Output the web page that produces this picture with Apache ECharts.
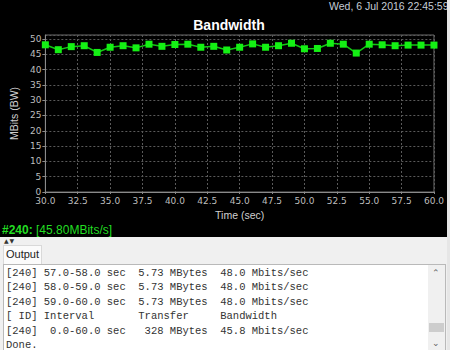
<!DOCTYPE html>
<html>
<head>
<meta charset="utf-8">
<script src="https://cdn.jsdelivr.net/npm/echarts@6/dist/echarts.min.js"></script>
<style>
  html, body { margin: 0; padding: 0; width: 450px; height: 350px; overflow: hidden; background: #f0f0f0; }
  #chart { position: absolute; left: 0; top: 0; width: 447px; height: 237px; background: #000; }
  #arrows { position: absolute; left: 4px; top: 238px; font: 6px "DejaVu Sans", sans-serif; line-height: 6px; color: #333; letter-spacing: 1px; }
  #tab { position: absolute; left: 3px; top: 245px; width: 39px; height: 19px; background: #fbfbfb; border: 1px solid #d9d9d9; border-bottom: none; box-sizing: border-box; font: 11px "Liberation Sans", Arial, sans-serif; color: #222; text-align: center; line-height: 17px; }
  #out { position: absolute; left: 3px; top: 264px; width: 443px; height: 90px; background: #fff; border: 1px solid #b9b9b9; box-sizing: border-box; }
  #log { position: absolute; left: 2px; top: 1px; margin: 0; font: 10.5px "Liberation Mono", "Courier New", monospace; line-height: 14.4px; color: #333; white-space: pre; }
  #sb { position: absolute; right: 0px; top: 0; width: 17px; height: 90px; background: #f0f0f0; }
  #sbthumb { position: absolute; left: 1px; top: 58px; width: 15px; height: 9px; background: #cdcdcd; }
  .chev { position: absolute; left: 4px; font: 9px "DejaVu Sans", sans-serif; color: #606060; }
  #edge { position: absolute; left: 447px; top: 0; width: 3px; height: 350px; background: #e6e6e6; }
</style>
</head>
<body>
<div id="chart"></div>
<div id="arrows">▲▼</div>
<div id="tab">Output</div>
<div id="out">
  <pre id="log"></pre>
  <div id="sb">
    <div class="chev" style="top:3px">&#8963;</div>
    <div id="sbthumb"></div>
    <div class="chev" style="top:73px">&#8964;</div>
  </div>
</div>
<div id="edge"></div>
<script>
// ---- data ----
var timeSec = [30, 31, 32, 33, 34, 35, 36, 37, 38, 39, 40, 41, 42, 43, 44, 45,
               46, 47, 48, 49, 50, 51, 52, 53, 54, 55, 56, 57, 58, 59, 60];
var bandwidth = [48.1, 46.5, 47.5, 47.8, 45.6, 47.3, 47.8, 47.1, 48.3, 47.6, 48.2,
                 48.3, 47.3, 47.6, 46.4, 47.3, 48.4, 47.3, 47.8, 48.6, 46.8, 46.9,
                 48.6, 48.3, 45.4, 48.3, 48.1, 47.8, 48.0, 48.0, 48.0];
var chartTitle = "Bandwidth";
var xAxisName = "Time (sec)";
var yAxisName = "MBits (BW)";
var dateText = "Wed, 6 Jul 2016 22:45:59";
var streamId = "#240:";
var streamRate = "[45.80MBits/s]";
var logLines = [
  "[240] 57.0-58.0 sec  5.73 MBytes  48.0 Mbits/sec",
  "[240] 58.0-59.0 sec  5.73 MBytes  48.0 Mbits/sec",
  "[240] 59.0-60.0 sec  5.73 MBytes  48.0 Mbits/sec",
  "[ ID] Interval       Transfer     Bandwidth",
  "[240]  0.0-60.0 sec   328 MBytes  45.8 Mbits/sec",
  "Done."
];

document.getElementById('log').textContent = logLines.join('\n');

var points = timeSec.map(function (t, i) { return [t, bandwidth[i]]; });

var chart = echarts.init(document.getElementById('chart'), null, { renderer: 'svg' });
chart.setOption({
  backgroundColor: '#000',
  animation: false,
  title: {
    text: chartTitle,
    left: 224, top: 13, textAlign: 'center',
    textStyle: { color: '#ffffff', fontSize: 14, fontWeight: 'bold', fontFamily: 'Liberation Sans, Arial, sans-serif' }
  },
  graphic: [
    { type: 'text', left: 329, top: 0,
      style: { text: dateText, fill: '#c4ccd6', font: '10.5px "Liberation Sans", Arial, sans-serif' } },
    { type: 'text', left: 2, top: 224,
      style: {
        text: '{b|' + streamId + '} {n|' + streamRate + '}',
        rich: {
          b: { fill: '#22dd22', fontWeight: 'bold', fontSize: 12, fontFamily: 'Liberation Sans, Arial, sans-serif' },
          n: { fill: '#22dd22', fontSize: 12, fontFamily: 'Liberation Sans, Arial, sans-serif' }
        }
      } }
  ],
  grid: { left: 43, right: 5, top: 35, bottom: 45, show: true, borderColor: '#6a6a6a', borderWidth: 1 },
  xAxis: {
    type: 'value', min: 30, max: 60, interval: 2.5,
    name: xAxisName, nameLocation: 'middle', nameGap: 16,
    nameTextStyle: { color: '#d0d0d0', fontSize: 10.5, fontFamily: 'Liberation Sans, Arial, sans-serif' },
    axisLine: { lineStyle: { color: '#8a8a8a' } },
    axisTick: { show: true, length: 2, lineStyle: { color: '#8a8a8a' } },
    axisLabel: { color: '#bdbdbd', fontSize: 9, margin: 4, fontFamily: 'DejaVu Sans, sans-serif',
                 formatter: function (v) { return v.toFixed(1); } },
    splitLine: { show: true, lineStyle: { color: '#5a5a5a', type: [2, 2], width: 1 } }
  },
  yAxis: {
    type: 'value', min: 0, max: 51.3, interval: 5,
    name: yAxisName, nameLocation: 'middle', nameGap: 21, nameRotate: 90,
    nameTextStyle: { color: '#d0d0d0', fontSize: 10.5, fontFamily: 'Liberation Sans, Arial, sans-serif' },
    axisLine: { show: true, lineStyle: { color: '#8a8a8a' } },
    axisTick: { show: true, length: 3, lineStyle: { color: '#8a8a8a' } },
    axisLabel: { color: '#bdbdbd', fontSize: 9, margin: 4, showMaxLabel: false, fontFamily: 'DejaVu Sans, sans-serif',
                 formatter: function (v) { return (v % 5 === 0) ? String(v) : ''; } },
    splitLine: { show: true, lineStyle: { color: '#5a5a5a', type: [2, 2], width: 1 } }
  },
  series: [{
    type: 'line',
    data: points,
    symbol: 'rect', symbolSize: 7,
    lineStyle: { color: '#13c813', width: 1.5 },
    itemStyle: { color: '#14f014' }
  }]
});
</script>
</body>
</html>
